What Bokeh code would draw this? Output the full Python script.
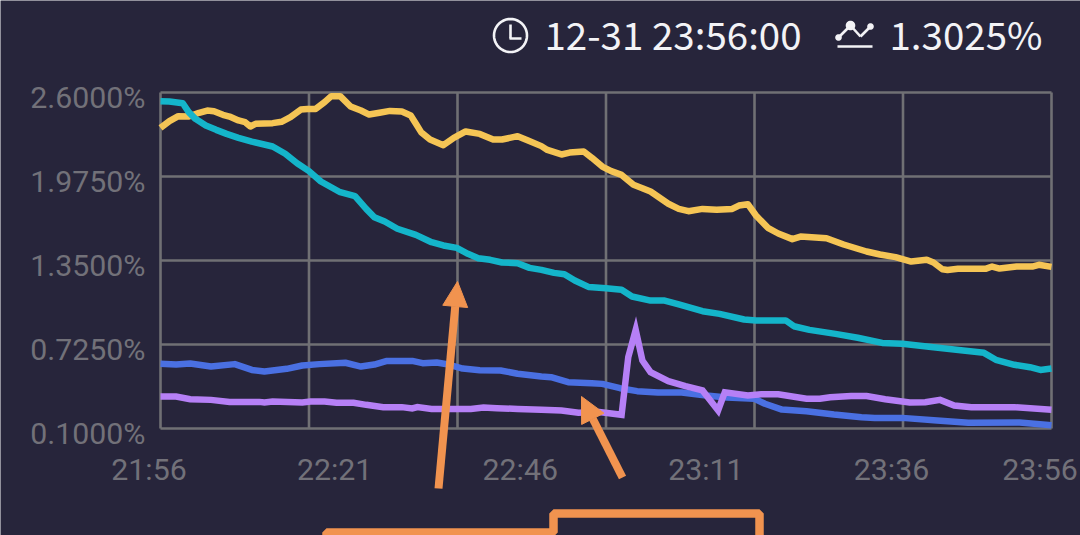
import numpy as np
from bokeh.core.properties import value
from bokeh.embed import file_html
from bokeh.resources import INLINE
from bokeh.plotting import figure
from bokeh.models import (ColumnDataSource, LabelSet, Label, Arrow,
                          NormalHead, PolyAnnotation, Range1d)

# ---- data: minutes since 21:56, value in percent ----
yellow_t = [0,1.2,2.4,3.8,5.2,6.3,7.2,8.4,9.3,10.5,11.4,12.1,12.8,15.1,16.3,17.5,18.9,19.8,20.9,22.1,23.0,24.2,25.6,27.0,28.1,29.5,30.9,32.5,33.7,34.4,35.1,36.3,38.1,39.5,41.1,43.0,44.8,46.0,48.1,49.5,51.3,52.1,54.0,55.1,57.0,58.1,59.5,60.7,62.1,63.7,64.9,66.0,68.4,69.8,71.1,73.0,74.9,77.0,77.9,79.1,80.2,81.8,83.2,85.1,86.2,89.7,92.0,95.1,96.9,99.0,101.1,103.2,104.1,105.3,106.0,107.4,111.1,112.0,113.0,115.3,117.4,118.3,120]
yellow_v = [2.337,2.387,2.424,2.421,2.449,2.466,2.461,2.434,2.421,2.392,2.379,2.347,2.367,2.372,2.382,2.416,2.473,2.478,2.478,2.528,2.573,2.573,2.496,2.466,2.436,2.449,2.463,2.458,2.429,2.367,2.305,2.250,2.208,2.263,2.310,2.292,2.250,2.250,2.275,2.243,2.201,2.173,2.139,2.153,2.161,2.114,2.049,2.015,1.987,1.913,1.888,1.863,1.772,1.734,1.717,1.734,1.727,1.734,1.759,1.769,1.685,1.593,1.551,1.509,1.528,1.516,1.469,1.417,1.395,1.375,1.342,1.355,1.335,1.285,1.280,1.288,1.288,1.305,1.290,1.305,1.305,1.318,1.3025]

teal_t = [0,1.2,3.0,3.8,4.7,6.1,7.5,8.9,10.5,12.3,15.1,16.8,18.4,20.0,21.6,24.2,26.2,27.7,28.8,30.2,31.9,34.4,36.5,38.1,39.9,41.4,42.8,44.4,46.0,48.1,49.7,51.3,53.0,54.4,55.8,57.7,60.0,62.1,63.5,66.0,67.9,69.8,73.0,75.3,78.6,80.2,84.2,85.3,87.4,90.9,93.9,97.2,99.9,104.1,108.1,110.9,112.5,115.0,117.1,118.5,120]
teal_v = [2.535,2.533,2.520,2.454,2.404,2.354,2.322,2.292,2.263,2.235,2.198,2.144,2.074,2.015,1.938,1.858,1.829,1.734,1.672,1.640,1.586,1.541,1.486,1.462,1.444,1.400,1.367,1.355,1.335,1.330,1.295,1.280,1.258,1.248,1.201,1.152,1.144,1.132,1.082,1.052,1.052,1.023,0.973,0.953,0.911,0.904,0.904,0.861,0.834,0.804,0.775,0.737,0.730,0.705,0.680,0.663,0.611,0.574,0.556,0.536,0.546]

blue_t = [0,2.1,4.0,6.8,10.0,12.3,14.0,17.0,19.1,21.4,24.9,27.0,28.8,30.5,33.9,35.3,37.2,38.8,40.7,43.0,45.8,48.1,51.3,52.6,54.9,58.1,59.5,61.9,64.2,67.0,70.2,73.5,76.3,80.0,81.4,83.7,87.0,90.7,94.4,96.2,99.9,104.6,108.8,115.7,120]
blue_v = [0.581,0.576,0.584,0.561,0.579,0.536,0.524,0.544,0.569,0.579,0.589,0.561,0.576,0.603,0.603,0.586,0.591,0.576,0.546,0.534,0.532,0.507,0.487,0.482,0.445,0.437,0.432,0.400,0.378,0.368,0.368,0.346,0.331,0.321,0.284,0.241,0.229,0.204,0.184,0.179,0.179,0.160,0.142,0.145,0.125]

purple_t = [0,2.1,4.0,6.8,9.3,13.3,14.0,15.1,19.1,20.2,22.1,23.7,26.0,27.7,30.0,32.5,33.9,34.6,36.5,38.8,41.8,43.5,45.3,48.1,51.3,54.0,56.3,59.1,62.1,63.0,64.0,64.9,66.0,68.4,70.7,73.0,75.1,76.0,79.1,80.9,83.2,87.0,88.8,90.2,93.0,95.1,97.6,100.9,103.0,105.0,106.9,109.2,115.0,120]
purple_v = [0.338,0.338,0.318,0.313,0.298,0.298,0.293,0.301,0.293,0.301,0.301,0.291,0.291,0.276,0.259,0.259,0.249,0.259,0.246,0.246,0.246,0.256,0.251,0.246,0.239,0.234,0.217,0.222,0.202,0.631,0.834,0.606,0.519,0.452,0.415,0.383,0.234,0.370,0.346,0.355,0.355,0.321,0.321,0.333,0.341,0.341,0.318,0.293,0.296,0.313,0.271,0.259,0.259,0.239]

x_tick_minutes = [0, 25, 50, 75, 100, 120]
x_tick_labels = ["21:56", "22:21", "22:46", "23:11", "23:36", "23:56"]
y_tick_values = [2.6, 1.975, 1.35, 0.725, 0.1]
y_tick_labels = ["2.6000%", "1.9750%", "1.3500%", "0.7250%", "0.1000%"]
grid_minutes = [0, 20, 40, 60, 80, 100, 120]
time_text = "12-31 23:56:00"
value_text = "1.3025%"

BG = "#27253b"
GRID = "#707074"
LABEL = "#727179"
WHITE = "#f3f3f6"
ORANGE = "#f1934f"

W, H = 1080, 535
# plot box in page pixels
L, R, T, B = 160, 1051, 92, 428
kx = 120 / (R - L)
ky = 2.5 / (B - T)

p = figure(width=W, height=H, output_backend="svg", toolbar_location=None,
           x_axis_type=None, y_axis_type=None,
           x_range=Range1d(-L * kx, (W - L) * kx),
           y_range=Range1d(0.1 - (H - B) * ky, 2.6 + T * ky),
           min_border=0, background_fill_color=BG, border_fill_color=BG,
           outline_line_color=None)
p.xgrid.visible = False
p.ygrid.visible = False

# grid
n_x, n_y = len(grid_minutes), len(y_tick_values)
p.segment(grid_minutes, [0.1]*n_x, grid_minutes, [2.6]*n_x, line_color=GRID, line_width=2.6)
p.segment([0]*n_y, y_tick_values, [120]*n_y, y_tick_values, line_color=GRID, line_width=2.6)

p.line(yellow_t, yellow_v, line_color="#f5c555", line_width=6.5, line_join="round")
p.line(teal_t, teal_v, line_color="#14b5ca", line_width=6.5, line_join="round")
p.line(blue_t, blue_v, line_color="#4a70e2", line_width=6.5, line_join="round")
p.line(purple_t, purple_v, line_color="#b680f6", line_width=6.5, line_join="miter")

# tick labels
p.add_layout(LabelSet(source=ColumnDataSource(dict(x=[0]*5, y=y_tick_values, t=y_tick_labels)),
                      x="x", y="y", text="t", x_offset=-15, y_offset=-5,
                      text_align="right", text_baseline="middle",
                      text_font=value("Roboto"), text_font_size="30.3px", text_color=LABEL))
p.add_layout(LabelSet(source=ColumnDataSource(dict(x=x_tick_minutes, y=[0.1]*6, t=x_tick_labels)),
                      x="x", y="y", text="t", x_offset=-11.5, y_offset=-41,
                      text_align="center", text_baseline="middle",
                      text_font=value("Roboto"), text_font_size="30.3px", text_color=LABEL))

# header
for txt, px, size in [(time_text, 544, "38.5px"), (value_text, 889, "38.5px")]:
    p.add_layout(Label(x=px, y=32, x_units="canvas", y_units="canvas", text=txt,
                       text_font="Noto Sans CJK SC", text_font_size=size, text_color=WHITE,
                       text_align="left", text_baseline="middle"))

def seg(a, b, color=WHITE, w=2.6):
    p.add_layout(Arrow(end=None, x_start=a[0], y_start=a[1], x_end=b[0], y_end=b[1],
                       start_units="canvas", end_units="canvas", line_color=color, line_width=w))

def disc(cx, cy, r, fill=True, color=WHITE, w=2.6):
    th = np.linspace(0, 2*np.pi, 48, endpoint=False)
    p.add_layout(PolyAnnotation(xs=list(cx + r*np.cos(th)), ys=list(cy + r*np.sin(th)),
                                xs_units="canvas", ys_units="canvas",
                                fill_color=color, fill_alpha=1.0 if fill else 0.0,
                                line_color=color, line_width=w, line_alpha=1.0))

# clock icon
disc(510, 35, 16.5, fill=False)
seg((510, 24), (510, 38)); seg((509, 38), (521, 38))
# line icon
seg((838, 37), (850, 25)); seg((850, 25), (860, 36)); seg((860, 36), (870, 26))
seg((837, 46), (872, 46))
disc(850, 25, 3.5); disc(838, 37, 2); disc(870, 26, 2)

# orange annotations
for tail, tip in [((438, 488), (457, 281)), ((622, 477), (581, 396))]:
    p.add_layout(Arrow(end=NormalHead(size=25, fill_color=ORANGE, line_color=ORANGE, line_width=1),
                       x_start=tail[0], y_start=tail[1], x_end=tip[0], y_end=tip[1],
                       start_units="canvas", end_units="canvas",
                       line_color=ORANGE, line_width=8))
p.add_layout(PolyAnnotation(xs=[326, 553, 553, 759, 759, 326], ys=[532, 532, 513, 513, 570, 570],
                            xs_units="canvas", ys_units="canvas",
                            fill_alpha=0.0, line_color=ORANGE, line_width=8.5, line_alpha=1.0))

open("out.html", "w").write(file_html(p, INLINE))
